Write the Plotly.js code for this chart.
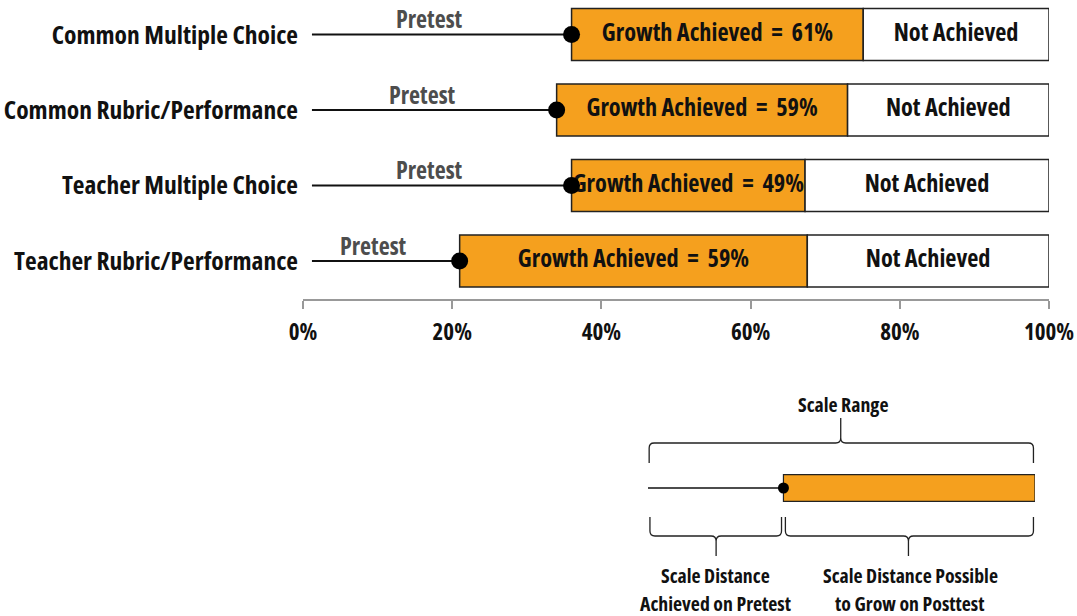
<!DOCTYPE html>
<html>
<head>
<meta charset="utf-8">
<script src="https://cdn.plot.ly/plotly-3.0.1.min.js"></script>
<style>
html,body{margin:0;padding:0;background:#fff;}
#chart{width:1077px;height:616px;}
text, tspan{font-stretch:75% !important;}
</style>
</head>
<body>
<div id="chart"></div>
<script>
// ---- data ----
const categories = ['Common Multiple Choice', 'Common Rubric/Performance', 'Teacher Multiple Choice', 'Teacher Rubric/Performance'];
const pretest = [36.0, 34.0, 36.0, 21.0];
const posttest = [75.1, 73.0, 67.3, 67.6];
const growthPct = [61, 59, 49, 59];
const xTickVals = [0, 20, 40, 60, 80, 100];
const xTickText = ['0%', '20%', '40%', '60%', '80%', '100%'];
// explanatory key
const keyPretest = 35;
const keyMax = 100;
const keyTitle = 'Scale Range';
const keyLeftLabel = ['Scale Distance', 'Achieved on Pretest'];
const keyRightLabel = ['Scale Distance Possible', 'to Grow on Posttest'];

const FONT = '"Open Sans", "DejaVu Sans", sans-serif';
const ORANGE = '#F5A01E';
const W = 1077, H = 616, ML = 303, MR = 28;
const LINE_START = 1.2; // visual gap between labels and the pretest line
const rows = categories.map((c, i) => i);

const py = p => 1 - p / H;
const pxX = p => (p - ML) / (W - ML - MR);

// lines from start to pretest
const lx = [], ly = [];
rows.forEach(i => { lx.push(LINE_START, pretest[i], null); ly.push(i, i, null); });

const boldFont = (size, color) => ({family: FONT, size: size, color: color || '#111', weight: 700});
const SP = ' \u00a0';

const traces = [
  {type: 'scatter', mode: 'lines', x: lx, y: ly, line: {color: '#111', width: 2}, hoverinfo: 'skip'},
  {type: 'bar', orientation: 'h', y: rows, base: pretest, x: rows.map(i => posttest[i] - pretest[i]),
   width: 0.69, marker: {color: ORANGE, line: {color: '#222', width: 1.5}}, hoverinfo: 'skip'},
  {type: 'bar', orientation: 'h', y: rows, base: posttest, x: rows.map(i => 100 - posttest[i]),
   width: 0.69, marker: {color: '#fff', line: {color: '#222', width: 1.5}}, hoverinfo: 'skip'},
  {type: 'scatter', mode: 'text', y: rows, x: rows.map(i => (pretest[i] + posttest[i]) / 2),
   text: rows.map(i => 'Growth Achieved' + SP + '=' + SP + growthPct[i] + '%'),
   textfont: boldFont(24.3), cliponaxis: false, hoverinfo: 'skip'},
  {type: 'scatter', mode: 'text', y: rows, x: rows.map(i => (posttest[i] + 100) / 2),
   text: rows.map(() => 'Not Achieved'),
   textfont: boldFont(24.3), cliponaxis: false, hoverinfo: 'skip'},
  {type: 'scatter', mode: 'markers', x: pretest, y: rows, marker: {color: '#000', size: 17}, cliponaxis: false, hoverinfo: 'skip'},
  // key
  {type: 'scatter', mode: 'lines', x: [0, keyPretest], y: [0, 0], xaxis: 'x2', yaxis: 'y2', line: {color: '#111', width: 1.5}, hoverinfo: 'skip'},
  {type: 'bar', orientation: 'h', y: [0], base: [keyPretest], x: [keyMax - keyPretest], xaxis: 'x2', yaxis: 'y2',
   width: 0.64, marker: {color: ORANGE, line: {color: '#222', width: 1.2}}, hoverinfo: 'skip'},
  {type: 'scatter', mode: 'markers', x: [keyPretest], y: [0], xaxis: 'x2', yaxis: 'y2', marker: {color: '#000', size: 11}, cliponaxis: false, hoverinfo: 'skip'}
];

const annotations = rows.map(i => ({
  x: pretest[i] / 2 - 1.0, y: i, xref: 'x', yref: 'y', text: 'Pretest', showarrow: false, xanchor: 'center',
  yshift: 16, font: boldFont(24, '#4d4d4d')
}));
annotations.push({x: pxX(843), y: py(404), xref: 'paper', yref: 'paper', xanchor: 'center', yanchor: 'middle',
  text: keyTitle, showarrow: false, font: boldFont(19.8)});
[[keyLeftLabel, 715], [keyRightLabel, 910]].forEach(([lines, cx]) => {
  lines.forEach((t, k) => annotations.push({x: pxX(cx), y: py(575 + k * 28), xref: 'paper', yref: 'paper',
    xanchor: 'center', yanchor: 'middle', text: t, showarrow: false, font: boldFont(19.8)}));
});

// braces (x in key data units, y in pixels -> paper)
const ux = 100 / 387; // key units per pixel
function brace(x0, x1, xm, yEnd, yBar, yPeak, dir) {
  const r = 5 * ux, rp = 5 * dir;
  const P = (x, y) => x + ',' + py(y);
  return 'M' + P(x0, yEnd) + ' L' + P(x0, yBar + rp) + ' Q' + P(x0, yBar) + ' ' + P(x0 + r, yBar) +
    ' L' + P(xm - r, yBar) + ' Q' + P(xm, yBar) + ' ' + P(xm, yBar - rp) + ' L' + P(xm, yPeak) +
    ' M' + P(xm, yBar - rp) + ' Q' + P(xm, yBar) + ' ' + P(xm + r, yBar) +
    ' L' + P(x1 - r, yBar) + ' Q' + P(x1, yBar) + ' ' + P(x1, yBar + rp) + ' L' + P(x1, yEnd);
}
const braceLine = {color: '#222', width: 1.3};
const shapes = [
  {type: 'path', xref: 'x2', yref: 'paper', path: brace(0.3, 99.6, 49.8, 463, 443, 418, 1), line: braceLine},
  {type: 'path', xref: 'x2', yref: 'paper', path: brace(0.5, keyPretest - 0.5, 17.6, 517, 536, 556, -1), line: braceLine},
  {type: 'path', xref: 'x2', yref: 'paper', path: brace(keyPretest + 0.5, 99.6, 67.3, 517, 536, 556, -1), line: braceLine}
];

const layout = {
  width: W, height: H,
  margin: {l: ML, r: MR, t: 0, b: 0, pad: 0},
  paper_bgcolor: '#fff', plot_bgcolor: 'rgba(0,0,0,0)',
  showlegend: false, barmode: 'overlay',
  font: {family: FONT, color: '#111'},
  xaxis: {range: [0, 100], tickvals: xTickVals, ticktext: xTickText, ticks: 'outside', ticklen: 8, tickwidth: 2,
    tickcolor: '#999', showline: true, linecolor: '#999', linewidth: 2, showgrid: false, zeroline: false,
    tickfont: boldFont(23), ticklabelstandoff: 3, ticklabeloverflow: 'allow', anchor: 'y', fixedrange: true},
  yaxis: {domain: [1 - 299 / H, 1], range: [3.503, -0.458], tickvals: rows, ticktext: categories, ticks: '',
    showline: false, showgrid: false, zeroline: false, tickfont: boldFont(25.5),
    ticklabelstandoff: 4, ticklabeloverflow: 'allow', fixedrange: true},
  xaxis2: {domain: [pxX(648), pxX(1035)], range: [0, 100], anchor: 'y2', visible: false, fixedrange: true},
  yaxis2: {domain: [1 - 530 / H, 1 - 446 / H], range: [1, -1], anchor: 'x2', visible: false, fixedrange: true},
  annotations: annotations, shapes: shapes
};

Plotly.newPlot('chart', traces, layout, {displayModeBar: false, staticPlot: true});
</script>
</body>
</html>
